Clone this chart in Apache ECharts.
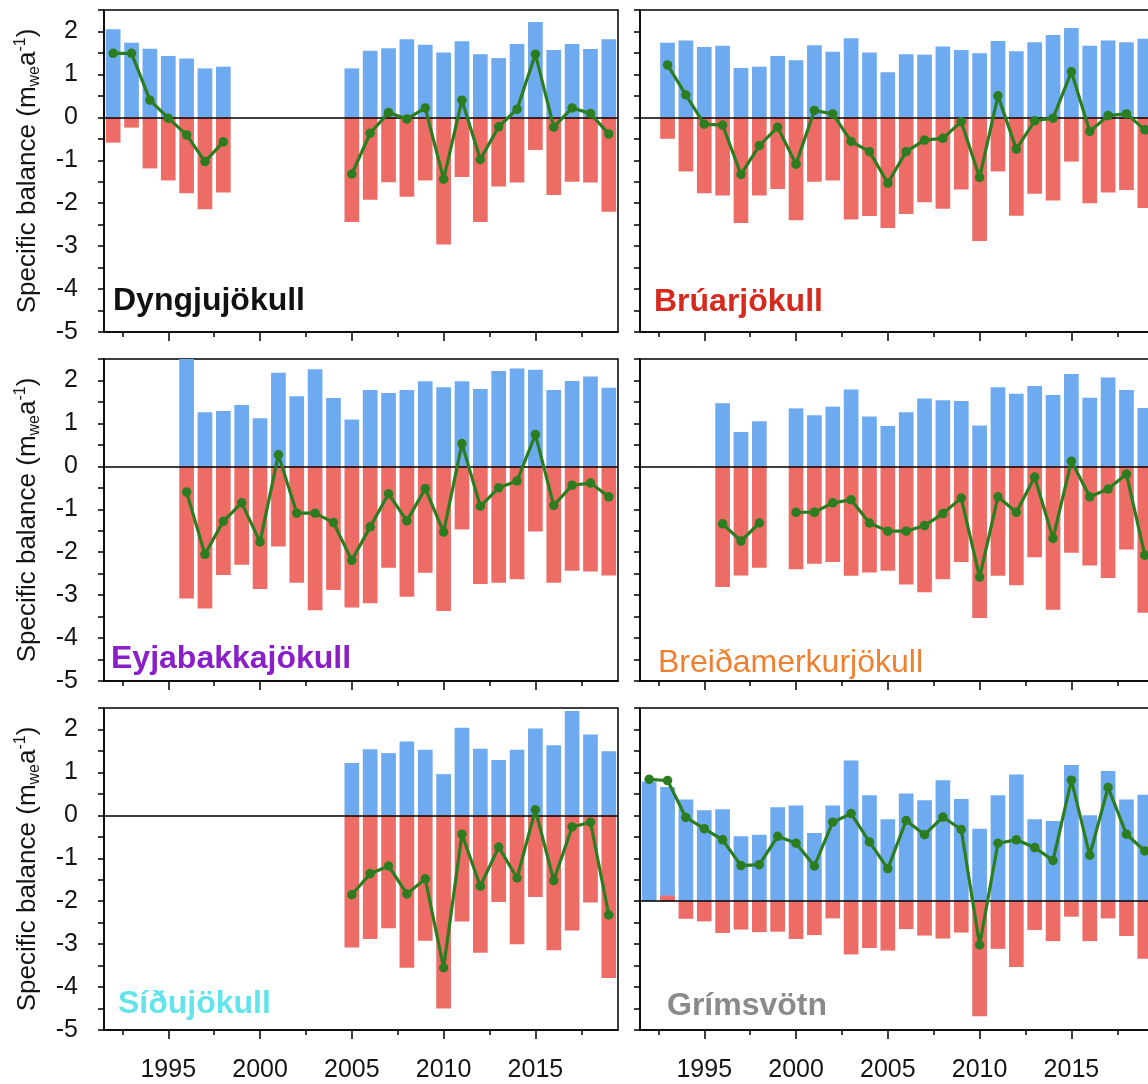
<!DOCTYPE html>
<html>
<head>
<meta charset="utf-8">
<script src="https://cdn.jsdelivr.net/npm/echarts@6/dist/echarts.min.js"></script>
<style>
html,body{margin:0;padding:0;overflow:hidden;background:#fff;width:1148px;height:1084px;}
#c{width:1160px;height:1084px;}
</style>
</head>
<body>
<div id="c"></div>
<script>
// ---------------- DATA ----------------
const YEARS = [1992,1993,1994,1995,1996,1997,1998,1999,2000,2001,2002,2003,2004,2005,2006,2007,2008,2009,2010,2011,2012,2013,2014,2015,2016,2017,2018,2019];

const X_TICK_MAJOR = [1995, 2000, 2005, 2010, 2015];
const X_TICK_MINOR = [1992.5, 1997.5, 2002.5, 2007.5, 2012.5, 2017.5];
const Y_TICKS = [-5,-4.5,-4,-3.5,-3,-2.5,-2,-1.5,-1,-0.5,0,0.5,1,1.5,2,2.5];
const Y_LABELS = [-5,-4,-3,-2,-1,0,1,2];

const NAMES = ['Dyngjujökull','Brúarjökull','Eyjabakkajökull','Breiðamerkurjökull','Síðujökull','Grímsvötn'];

// bar baselines (the Grímsvötn panel is drawn around -2)
const BASES = [0, 0, 0, 0, 0, -2];

// Dyngjujökull
const dyngjuWinter = [2.05,1.74,1.60,1.43,1.37,1.14,1.18,null,null,null,null,null,null,1.14,1.55,1.61,1.82,1.69,1.51,1.77,1.47,1.38,1.71,2.22,1.57,1.71,1.59,1.82];
const dyngjuSummer = [-0.59,-0.24,-1.19,-1.47,-1.77,-2.14,-1.75,null,null,null,null,null,null,-2.44,-1.92,-1.51,-1.85,-1.47,-2.96,-1.39,-2.44,-1.61,-1.52,-0.76,-1.81,-1.50,-1.52,-2.20];
const dyngjuNet = [1.49,1.49,0.40,-0.02,-0.41,-1.03,-0.57,null,null,null,null,null,null,-1.32,-0.37,0.11,-0.04,0.22,-1.44,0.40,-0.98,-0.22,0.19,1.47,-0.23,0.22,0.09,-0.39];

// Brúarjökull
const bruarWinter = [null,1.74,1.79,1.64,1.67,1.15,1.18,1.43,1.33,1.68,1.53,1.84,1.51,1.05,1.47,1.46,1.65,1.57,1.49,1.78,1.54,1.75,1.92,2.08,1.67,1.79,1.75,1.83];
const bruarSummer = [null,-0.50,-1.26,-1.77,-1.82,-2.46,-1.82,-1.67,-2.40,-1.50,-1.47,-2.38,-2.30,-2.58,-2.25,-1.98,-2.13,-1.68,-2.88,-1.26,-2.29,-1.78,-1.94,-1.03,-2.00,-1.75,-1.69,-2.11];
const bruarNet = [null,1.22,0.52,-0.16,-0.18,-1.33,-0.66,-0.23,-1.09,0.16,0.08,-0.56,-0.80,-1.53,-0.80,-0.53,-0.49,-0.10,-1.40,0.50,-0.74,-0.08,-0.02,1.06,-0.33,0.04,0.08,-0.29];

// Eyjabakkajökull
const eyjaWinter = [null,null,null,null,2.50,1.26,1.29,1.43,1.12,2.18,1.63,2.26,1.59,1.09,1.78,1.71,1.78,1.98,1.84,1.98,1.80,2.22,2.28,2.25,1.78,1.99,2.09,1.83];
const eyjaSummer = [null,null,null,null,-3.08,-3.31,-2.53,-2.29,-2.86,-1.87,-2.71,-3.35,-2.88,-3.29,-3.19,-2.36,-3.04,-2.48,-3.37,-1.47,-2.74,-2.71,-2.63,-1.52,-2.71,-2.43,-2.45,-2.54];
const eyjaNet = [null,null,null,null,-0.60,-2.05,-1.28,-0.85,-1.76,0.27,-1.09,-1.09,-1.31,-2.19,-1.41,-0.64,-1.27,-0.52,-1.53,0.53,-0.93,-0.50,-0.34,0.74,-0.91,-0.44,-0.39,-0.71];

// Breiðamerkurjökull
const breidaWinter = [null,null,null,null,1.47,0.80,1.05,null,1.35,1.19,1.39,1.79,1.16,0.94,1.26,1.58,1.54,1.52,0.95,1.84,1.69,1.87,1.66,2.15,1.60,2.07,1.78,1.36];
const breidaSummer = [null,null,null,null,-2.81,-2.54,-2.36,null,-2.40,-2.27,-2.23,-2.55,-2.47,-2.43,-2.75,-2.93,-2.63,-2.23,-3.53,-2.55,-2.77,-2.12,-3.34,-2.01,-2.31,-2.60,-1.94,-3.41];
const breidaNet = [null,null,null,null,-1.34,-1.74,-1.32,null,-1.07,-1.07,-0.85,-0.78,-1.32,-1.51,-1.51,-1.38,-1.10,-0.74,-2.58,-0.71,-1.07,-0.25,-1.68,0.12,-0.71,-0.53,-0.18,-2.07];

// Síðujökull
const siduWinter = [null,null,null,null,null,null,null,null,null,null,null,null,null,1.22,1.54,1.45,1.72,1.53,0.96,2.04,1.55,1.29,1.53,2.02,1.63,2.43,1.88,1.49];
const siduSummer = [null,null,null,null,null,null,null,null,null,null,null,null,null,-3.08,-2.88,-2.63,-3.55,-2.92,-4.50,-2.47,-3.20,-2.02,-3.00,-1.90,-3.14,-2.68,-2.03,-3.79];
const siduNet = [null,null,null,null,null,null,null,null,null,null,null,null,null,-1.85,-1.36,-1.18,-1.83,-1.48,-3.55,-0.44,-1.65,-0.74,-1.46,0.13,-1.52,-0.27,-0.16,-2.32];

// Grímsvötn (values as plotted on the axis, bars drawn from the -2 baseline)
const grimsWinter = [0.79,0.66,0.37,0.12,0.14,-0.49,-0.45,0.19,0.23,-0.41,0.23,1.28,0.47,-0.09,0.51,0.35,0.82,0.38,-0.31,0.47,0.95,-0.09,-0.13,1.17,0.00,1.03,0.37,0.48];
const grimsSummer = [null,-1.87,-2.41,-2.47,-2.74,-2.66,-2.72,-2.71,-2.88,-2.79,-2.40,-3.24,-3.09,-3.15,-2.65,-2.80,-2.87,-2.73,-4.68,-3.11,-3.53,-2.67,-2.93,-2.36,-2.93,-2.40,-2.81,-3.34];
const grimsNet = [0.84,0.81,-0.05,-0.31,-0.57,-1.17,-1.15,-0.49,-0.65,-1.18,-0.16,0.04,-0.62,-1.24,-0.12,-0.45,-0.04,-0.33,-3.02,-0.65,-0.57,-0.75,-1.05,0.82,-0.93,0.65,-0.44,-0.83];

const WINTER = [dyngjuWinter, bruarWinter, eyjaWinter, breidaWinter, siduWinter, grimsWinter];
const SUMMER = [dyngjuSummer, bruarSummer, eyjaSummer, breidaSummer, siduSummer, grimsSummer];
const NET = [dyngjuNet, bruarNet, eyjaNet, breidaNet, siduNet, grimsNet];

// ---------------- LAYOUT / STYLE ----------------
const FONT = "'Liberation Sans', Arial, Helvetica, sans-serif";
const BLUE = '#6eaaf0';
const RED = '#ee6c66';
const GREEN = '#2b7d1f';
const BAR_HALF = 0.4;
const COL_LEFT = [104, 640];
const ROW_TOP = [10, 359, 708];
const GRID_W = 514, GRID_H = 322;
const TITLE_STYLE = [
  {color:'#111111', weight:'bold', left:113, top:285},
  {color:'#d62a1e', weight:'bold', left:654, top:286},
  {color:'#8a1ec8', weight:'bold', left:111, top:643},
  {color:'#ee8030', weight:'normal', left:658, top:647},
  {color:'#62e4ea', weight:'bold', left:118, top:988},
  {color:'#8a8a8a', weight:'bold', left:667, top:990}
];

const grids = [], xAxes = [], yAxes = [], series = [], graphics = [];

for (let g = 0; g < 6; g++) {
  const row = Math.floor(g / 2), col = g % 2;
  const base = BASES[g];
  grids.push({left: COL_LEFT[col], top: ROW_TOP[row], width: GRID_W, height: GRID_H,
    show: true, borderColor: '#000', borderWidth: 1.5, backgroundColor: 'transparent'});

  // major x ticks (and labels on bottom row)
  xAxes.push({gridIndex: g, type: 'value', min: 1991.5, max: 2019.5, position: 'bottom',
    axisLine: {show: true, onZero: false, lineStyle: {color: '#000', width: 1.5}},
    axisTick: {show: true, customValues: X_TICK_MAJOR, length: 9, inside: false, lineStyle: {color: '#000', width: 1.5}},
    axisLabel: {show: row === 2, customValues: X_TICK_MAJOR, fontSize: 25, fontFamily: FONT, color: '#151515', margin: 28,
      formatter: (v) => String(v)},
    splitLine: {show: false}});
  // minor x ticks
  xAxes.push({gridIndex: g, type: 'value', min: 1991.5, max: 2019.5, position: 'bottom',
    axisLine: {show: false, onZero: false},
    axisTick: {show: true, customValues: X_TICK_MINOR, length: 5, inside: false, lineStyle: {color: '#000', width: 1.5}},
    axisLabel: {show: false},
    splitLine: {show: false}});

  const ya = {gridIndex: g, type: 'value', min: -5, max: 2.5,
    axisLine: {show: true, onZero: false, lineStyle: {color: '#000', width: 1.5}},
    axisTick: {show: true, customValues: Y_TICKS, length: 6, inside: false, lineStyle: {color: '#000', width: 1.5}},
    axisLabel: {show: col === 0, customValues: Y_LABELS, fontSize: 25, fontFamily: FONT, color: '#151515', margin: 26,
      formatter: (v) => String(v)},
    splitLine: {show: false}};
  if (col === 0) {
    ya.name = '{t|Specific balance (m}{s|we}{t|a}{p|-1}{t|)}';
    ya.nameLocation = 'middle';
    ya.nameRotate = 90;
    ya.nameGap = 61;
    ya.nameTextStyle = {rich: {
      t: {fontSize: 26, fontFamily: FONT, color: '#151515', lineHeight: 30},
      s: {fontSize: 16, fontFamily: FONT, color: '#151515', lineHeight: 14, verticalAlign: 'bottom'},
      p: {fontSize: 16, fontFamily: FONT, color: '#151515', lineHeight: 14, verticalAlign: 'top'}
    }};
  }
  yAxes.push(ya);

  const makeBars = (vals, color, withLine) => {
    const pts = [];
    YEARS.forEach((y, i) => { if (vals[i] !== null) pts.push([y, vals[i]]); });
    const s = {type: 'custom', xAxisIndex: g * 2, yAxisIndex: g, z: 2, data: pts, silent: true,
      renderItem: (params, api) => {
        const x = api.value(0), v = api.value(1);
        const a = api.coord([x - BAR_HALF, base]);
        const b = api.coord([x + BAR_HALF, v]);
        return {type: 'rect', shape: {x: a[0], y: Math.min(a[1], b[1]), width: b[0] - a[0], height: Math.abs(b[1] - a[1])},
          style: {fill: color}};
      }};
    if (withLine) {
      s.markLine = {silent: true, symbol: 'none', z: 5, label: {show: false},
        lineStyle: {color: '#000', width: 1.6, type: 'solid'}, data: [{yAxis: base}]};
    }
    return s;
  };
  series.push(makeBars(WINTER[g], BLUE, false));
  series.push(makeBars(SUMMER[g], RED, true));
  series.push({type: 'line', xAxisIndex: g * 2, yAxisIndex: g, z: 10,
    data: YEARS.map((y, i) => [y, NET[g][i] === null ? '-' : NET[g][i]]),
    connectNulls: false, symbol: 'circle', symbolSize: 9.5, showAllSymbol: true,
    lineStyle: {color: GREEN, width: 3.2}, itemStyle: {color: GREEN}, silent: true});

  const ts = TITLE_STYLE[g];
  graphics.push({type: 'text', left: ts.left, top: ts.top, z: 20,
    style: {text: NAMES[g], fill: ts.color, font: ts.weight + ' 32px ' + FONT}});
}

const chart = echarts.init(document.getElementById('c'), null, {renderer: 'canvas'});
chart.setOption({
  animation: false,
  backgroundColor: '#fff',
  grid: grids, xAxis: xAxes, yAxis: yAxes, series: series, graphic: graphics
});
</script>
</body>
</html>
